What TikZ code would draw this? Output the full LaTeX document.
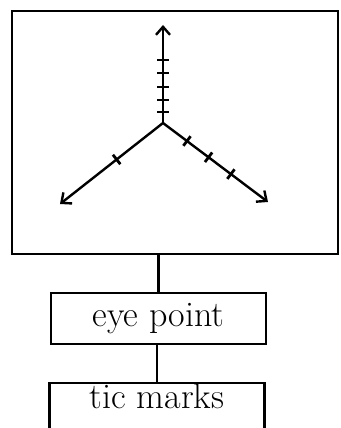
\documentclass[tikz,border=0pt]{standalone}
\usepackage{tikz}
\usetikzlibrary{positioning, arrows.meta, calc}

\begin{document}
\begin{tikzpicture}[x=1pt, y=-1pt, line width=2.2pt,
    box/.style={draw, minimum width=215pt, inner sep=0pt,
                font=\fontsize{36}{42}\selectfont},
    axis/.style={line width=2.4pt, -{Straight Barb[length=8pt, width=14pt]}},
    tic/.style={line width=2.8pt}]
  \clip (0,0) rectangle (340,428);
  % the view window with the three axes
  \node[draw, minimum width=326pt, minimum height=243pt] (frame) at (175,132.5) {};
  \coordinate (O) at (163,123);
  \coordinate (ztip) at (163,25);
  \coordinate (xtip) at (60,204);
  \coordinate (ytip) at (268,202);
  \draw[axis] (O) -- (ztip);
  \draw[axis] (O) -- (xtip);
  \draw[axis] (O) -- (ytip);
  \foreach \d in {11,23,36,50,63}
    \draw[tic] ($(O)!\d pt!(ztip)!6pt!90:(ztip)$) -- ($(O)!\d pt!(ztip)!6pt!-90:(ztip)$);
  \foreach \d in {59}
    \draw[tic] ($(O)!\d pt!(xtip)!6pt!90:(xtip)$) -- ($(O)!\d pt!(xtip)!6pt!-90:(xtip)$);
  \foreach \d in {30,57,85}
    \draw[tic] ($(O)!\d pt!(ytip)!6pt!90:(ytip)$) -- ($(O)!\d pt!(ytip)!6pt!-90:(ytip)$);
  % the chain below
  \node[box, text height=33pt, text depth=18pt, anchor=north] (eye) at (158.5,292) {eye point};
  \node[box, text height=25pt, text depth=26pt, anchor=north] (tics) at (157,382) {tic marks};
  \draw (frame.south -| eye.north) -- (eye.north);
  \draw (tics.north |- eye.south) -- (tics.north);
\end{tikzpicture}
\end{document}
